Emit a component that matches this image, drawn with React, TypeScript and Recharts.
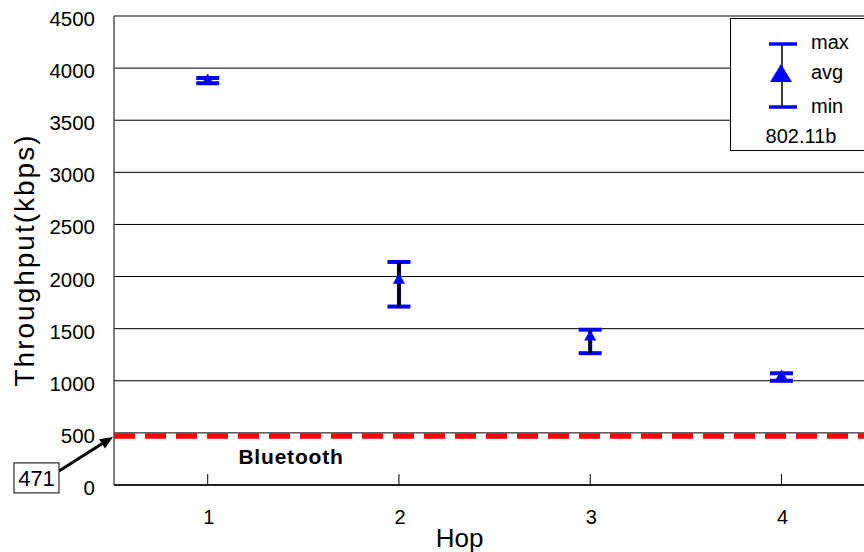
import {
  ComposedChart,
  Scatter,
  ErrorBar,
  XAxis,
  YAxis,
  CartesianGrid,
  ReferenceLine,
} from "recharts";

const hops = [1, 2, 3, 4];
const avgValues = [3880, 1965, 1420, 1040];
const maxValues = [3905, 2140, 1490, 1072];
const minValues = [3855, 1712, 1265, 1000];
const bluetoothValue = 471;
const yTicks = [0, 500, 1000, 1500, 2000, 2500, 3000, 3500, 4000, 4500];

const data = hops.map((hop, i) => ({
  hop,
  avg: avgValues[i],
  err: [avgValues[i] - minValues[i], maxValues[i] - avgValues[i]],
}));

const FONT = '"Liberation Sans", Arial, sans-serif';

const XTick = ({ x, y, payload }: { x: number; y: number; payload: { value: number } }) => (
  <g>
    <line x1={x} y1={y} x2={x} y2={y - 11} stroke="#000" strokeWidth={1} />
    <text x={x + 1} y={y + 39} textAnchor="middle" fontSize={20} fill="#000">
      {payload.value}
    </text>
  </g>
);

const YTick = ({ x, y, payload }: { x: number; y: number; payload: { value: number } }) => (
  <text x={x - 19} y={y + 10} textAnchor="end" fontSize={20.5} fill="#000">
    {payload.value}
  </text>
);

const YTitle = () => (
  <text
    x={34}
    y={260}
    transform="rotate(-90 34 260)"
    textAnchor="middle"
    fontSize={28}
    letterSpacing={2}
    fill="#000"
  >
    Throughput(kbps)
  </text>
);

const XTitle = ({ viewBox }: { viewBox?: { x: number; width: number } }) => {
  const vb = viewBox ?? { x: 114, width: 765 };
  return (
    <text x={vb.x + vb.width / 2 - 37} y={547} textAnchor="middle" fontSize={26} fill="#000">
      Hop
    </text>
  );
};

// Bluetooth label + "471" callout with arrow pointing at the line start
const BluetoothLabel = ({ viewBox }: { viewBox?: { x: number; y: number } }) => {
  const x0 = viewBox?.x ?? 114;
  const y0 = viewBox?.y ?? 436;
  const tail = { x: x0 - 55, y: y0 + 35 };
  const tip = { x: x0 - 1, y: y0 + 1 };
  const dx = tip.x - tail.x;
  const dy = tip.y - tail.y;
  const len = Math.sqrt(dx * dx + dy * dy);
  const ux = dx / len;
  const uy = dy / len;
  const bx = tip.x - ux * 13;
  const by = tip.y - uy * 13;
  const head = `${tip.x},${tip.y} ${bx - uy * 5.5},${by + ux * 5.5} ${bx + uy * 5.5},${by - ux * 5.5}`;
  return (
    <g>
      <text x={x0 + 177} y={y0 + 28} textAnchor="middle" fontSize={21} fontWeight="bold" letterSpacing={0.8} fill="#000">
        Bluetooth
      </text>
      <line x1={tail.x} y1={tail.y} x2={bx} y2={by} stroke="#000" strokeWidth={3} />
      <polygon points={head} fill="#000" />
      <rect x={x0 - 100} y={y0 + 27} width={45} height={30} fill="#fff" stroke="#000" strokeWidth={1} />
      <text x={x0 - 77.5} y={y0 + 50} textAnchor="middle" fontSize={22} fill="#000">
        {bluetoothValue}
      </text>
    </g>
  );
};

const NoMark = () => <g />;

const LegendBox = () => (
  <div
    style={{
      position: "absolute",
      left: 730,
      top: 18,
      width: 140,
      height: 131,
      border: "1px solid #000",
      background: "#fff",
    }}
  >
    <svg width={140} height={131} style={{ display: "block" }}>
      <line x1={51} y1={25} x2={51} y2={88} stroke="#000" strokeWidth={1.5} />
      <line x1={38} y1={25} x2={66} y2={25} stroke="#0000ff" strokeWidth={3.5} />
      <line x1={38} y1={88} x2={66} y2={88} stroke="#0000ff" strokeWidth={3.5} />
      <polygon points="50,45 39,63 61,63" fill="#0000ff" />
      <text x={80} y={30} fontSize={20} fill="#000">max</text>
      <text x={80} y={60} fontSize={20} fill="#000">avg</text>
      <text x={80} y={94} fontSize={20} fill="#000">min</text>
      <text x={70} y={124} fontSize={20} textAnchor="middle" fill="#000">802.11b</text>
    </svg>
  </div>
);

export default function App() {
  return (
    <div
      style={{
        position: "absolute",
        left: 0,
        top: 0,
        width: 864,
        height: 552,
        overflow: "hidden",
        background: "#fff",
        fontFamily: FONT,
      }}
    >
      <ComposedChart width={879} height={552} data={data} margin={{ top: 16, right: 0, left: 0, bottom: 27 }}>
        <CartesianGrid vertical={false} stroke="#000" strokeWidth={1} />
        <XAxis
          type="number"
          dataKey="hop"
          domain={[0.51, 4.51]}
          ticks={hops}
          allowDataOverflow
          height={40}
          tickSize={0}
          tickMargin={0}
          tickLine={false}
          axisLine={{ stroke: "#000", strokeWidth: 1.5 }}
          tick={XTick}
          label={<XTitle />}
        />
        <YAxis
          type="number"
          domain={[0, 4500]}
          ticks={yTicks}
          allowDataOverflow
          width={114}
          tickSize={0}
          tickMargin={0}
          tickLine={false}
          axisLine={{ stroke: "#555", strokeWidth: 1.5 }}
          tick={YTick}
          label={<YTitle />}
        />
        <ReferenceLine
          y={bluetoothValue}
          stroke="#ff0000"
          strokeWidth={5.5}
          strokeDasharray="21 10"
          label={<BluetoothLabel />}
        />
        <Scatter dataKey="avg" fill="#0000ff" shape="triangle" legendType="none" isAnimationActive={false}>
          <ErrorBar dataKey="err" direction="y" width={11.5} stroke="#0000ff" strokeWidth={4} isAnimationActive={false} />
        </Scatter>
        <Scatter dataKey="avg" shape={NoMark} legendType="none" isAnimationActive={false}>
          <ErrorBar dataKey="err" direction="y" width={0} stroke="#000" strokeWidth={3.5} isAnimationActive={false} />
        </Scatter>
      </ComposedChart>
      <LegendBox />
    </div>
  );
}
